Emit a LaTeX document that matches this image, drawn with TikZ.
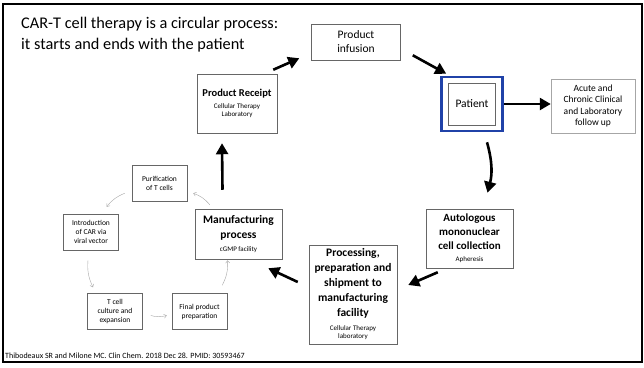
\documentclass[tikz,border=0pt]{standalone}
\usepackage{fontspec}
\setmainfont{Carlito}
\usetikzlibrary{arrows.meta, positioning}

\definecolor{ptblue}{RGB}{32,66,168}
\newcommand{\fs}[2]{\fontsize{#1}{#2}\selectfont}
\newcommand{\subtxt}[1]{{\mdseries\fs{7}{8}#1}}

\begin{document}
\begin{tikzpicture}
   [x=1pt, y=-1pt,
    box/.style={draw=black!60, line width=0.5pt, align=center, inner sep=1pt},
    step box/.style={box, minimum width=55pt, minimum height=36pt, font=\fs{7.5}{9}},
    big/.style={line width=2.6pt, -{Triangle[length=11pt, width=12pt]}},
    small/.style={draw=black!35, line width=0.4pt, -{Straight Barb[length=2.5pt, width=4pt]}, bend right=15}]
   \useasboundingbox (0,0) rectangle (644,367);
   \draw[line width=1.6pt] (3,4) rectangle (642,362);

   % title and source
   \node[anchor=north west, inner sep=0, align=left, font=\fs{16.3}{21}] (title) at (21,17)
      {CAR-T cell therapy is a circular process:\\it starts and ends with the patient};
   \node[anchor=base west, inner sep=0, font=\fs{8}{9}] (src) at (5,358)
      {Thibodeaux SR and Milone MC. Clin Chem. 2018 Dec 28. PMID: 30593467};

   % main cycle
   \node[box, minimum width=89pt, minimum height=36pt, font=\fs{11.5}{14}] (inf) at (356,42) {Product\\infusion};
   \node[box, minimum width=47pt, minimum height=42pt, font=\fs{11.5}{13}] (pat) at (472,104) {Patient};
   \node[draw=ptblue, line width=2.6pt, minimum width=61pt, minimum height=54pt] (patout) at (472,104) {};
   \node[box, draw=black!35, minimum width=84pt, minimum height=54pt, font=\fs{9.5}{11.5}] (acute) at (593,106)
      {Acute and\\Chronic Clinical\\and Laboratory\\follow up};
   \node[box, minimum width=87pt, minimum height=59pt, font=\bfseries\fs{11}{14}] (auto) at (469.5,238.5)
      {Autologous\\mononuclear\\cell collection\\[-2pt]\subtxt{Apheresis}};
   \node[box, minimum width=88pt, minimum height=99pt, font=\bfseries\fs{11.5}{15}] (proc) at (353,294.5)
      {Processing,\\preparation and\\shipment to\\manufacturing\\facility\\[-1pt]\subtxt{Cellular Therapy}\\[-7pt]\subtxt{laboratory}};
   \node[box, minimum width=87pt, minimum height=50pt, font=\fs{11.5}{15}] (mfg) at (238.5,234)
      {\bfseries Manufacturing\\\bfseries process\\[-2pt]\subtxt{cGMP facility}};
   \node[box, minimum width=80pt, minimum height=59pt, font=\fs{10.5}{14}] (recv) at (237,103.5)
      {\bfseries Product Receipt\\[-2pt]\subtxt{Cellular Therapy}\\[-6pt]\subtxt{Laboratory}};

   % manufacturing steps
   \node[step box] (purif) at (159.5,183) {Purification\\of T cells};
   \node[step box] (intro) at (91,232) {Introduction\\of CAR via\\viral vector};
   \node[step box] (tcell) at (115,311.5) {T cell\\culture and\\expansion};
   \node[step box] (final) at (199.5,311.5) {Final product\\preparation};

   \draw[big] ([shift={(-4,-4)}]recv.north east) -- ([shift={(-12,-2)}]inf.south west);
   \draw[big] ([shift={(12,-5)}]inf.south east) -- ([shift={(6,-2)}]patout.north west);
   \draw[big] (patout.east) -- (patout.east -| acute.west);
   \draw[big] ([shift={(15,10)}]patout.south) to[bend left=15] ([shift={(18,-16)}]auto.north);
   \draw[big] ([shift={(12,4)}]auto.south west) -- ([shift={(11,-9.5)}]proc.east);
   \draw[big] ([shift={(-11,-12.5)}]proc.west) -- ([shift={(-14,9)}]mfg.south east);
   \draw[big] ([shift={(-16,-19)}]mfg.north) -- ([shift={(-15,10)}]recv.south);

   \draw[small] ([shift={(15,-4)}]mfg.north west) to ([shift={(6,-8)}]purif.south east);
   \draw[small] ([shift={(-7,-8)}]purif.south west) to ([shift={(-12,-7)}]intro.north east);
   \draw[small] ([shift={(-3,10)}]intro.south) to ([shift={(-22,-6)}]tcell.north);
   \draw[small] ([shift={(8,4)}]tcell.east) to ([shift={(-5,4)}]final.west);
   \draw[small] ([shift={(-5,-8)}]final.north east) to ([shift={(-11,1)}]mfg.south);
\end{tikzpicture}
\end{document}
